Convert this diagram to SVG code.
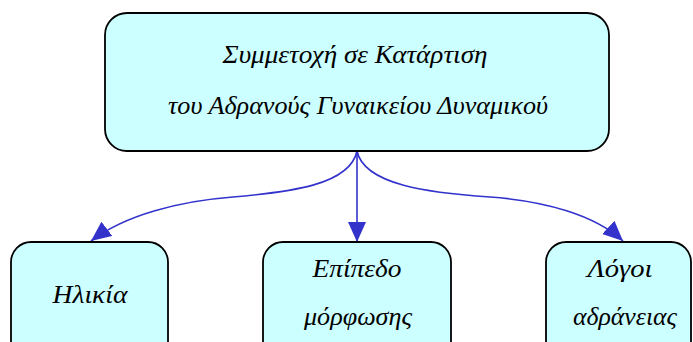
<svg xmlns="http://www.w3.org/2000/svg" width="693" height="342" viewBox="0 0 693 342">
<style>
.box{fill:#CCFFFF;stroke:#000;stroke-width:1.8}
.t{font-family:"Liberation Serif","DejaVu Serif",serif;font-style:italic;font-size:25px;fill:#000;text-anchor:middle}
.c{fill:none;stroke:#3333CC;stroke-width:1.6}
</style>
<defs>
<marker id="ah" markerUnits="userSpaceOnUse" markerWidth="22" markerHeight="20" refX="20" refY="9" orient="auto" viewBox="0 0 22 20">
<path d="M0,0 L20,9 L0,18 Z" fill="#3333CC"/>
</marker>
</defs>
<rect width="693" height="342" fill="#fff"/>
<g id="connectors">
<path class="c" d="M357,151 C350,185 290,192 233,197 C180,201 125,215 91,241" marker-end="url(#ah)"/>
<path class="c" d="M357,151 L357,242" marker-end="url(#ah)"/>
<path class="c" d="M357,151 C364,185 430,193 490,197 C545,201 595,215 623,241" marker-end="url(#ah)"/>
</g>
<g id="root">
<rect class="box" x="105" y="13" width="504" height="138" rx="22"/>
<text class="t" x="355" y="63" textLength="265" lengthAdjust="spacingAndGlyphs">Συμμετοχή σε Κατάρτιση</text>
<text class="t" x="358" y="114" textLength="380" lengthAdjust="spacingAndGlyphs">του Αδρανούς Γυναικείου Δυναμικού</text>
</g>
<g id="age">
<rect class="box" x="11" y="242" width="157" height="130" rx="20"/>
<text class="t" x="90" y="303" textLength="75" lengthAdjust="spacingAndGlyphs">Ηλικία</text>
</g>
<g id="education">
<rect class="box" x="263" y="242" width="188" height="130" rx="20"/>
<text class="t" x="357" y="277" textLength="89" lengthAdjust="spacingAndGlyphs">Επίπεδο</text>
<text class="t" x="358" y="325" textLength="108" lengthAdjust="spacingAndGlyphs">μόρφωσης</text>
</g>
<g id="reasons">
<rect class="box" x="546" y="242" width="145" height="130" rx="20"/>
<text class="t" x="620" y="277" textLength="65" lengthAdjust="spacingAndGlyphs">Λόγοι</text>
<text class="t" x="625" y="325" textLength="104" lengthAdjust="spacingAndGlyphs">αδράνειας</text>
</g>
</svg>
